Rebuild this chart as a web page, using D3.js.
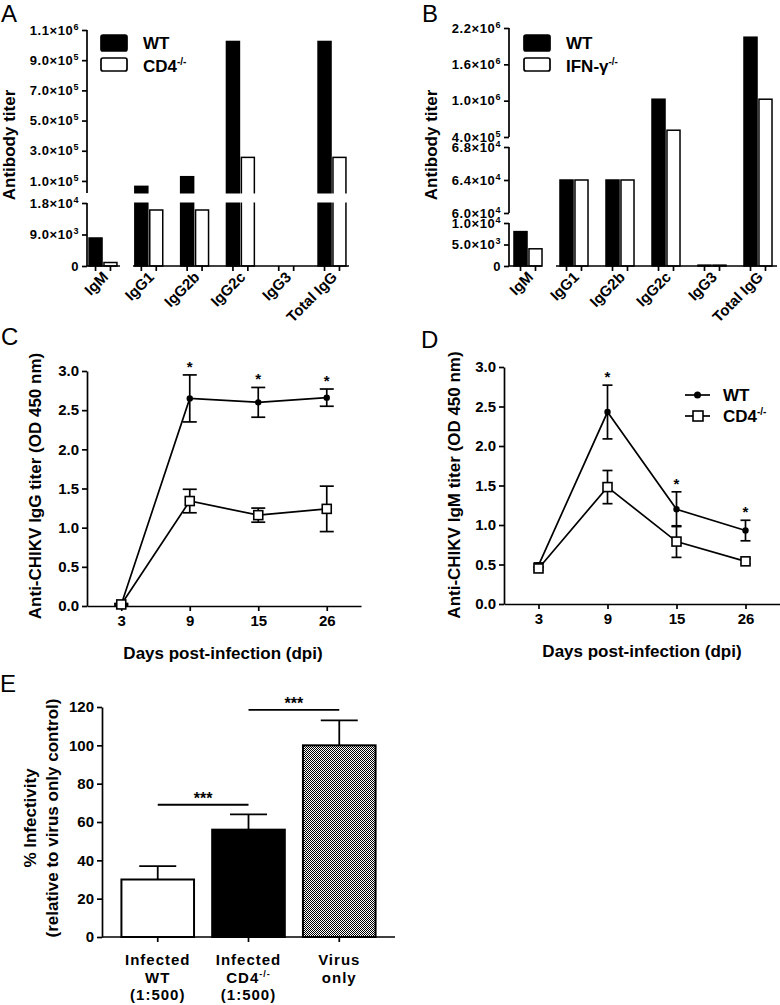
<!DOCTYPE html>
<html>
<head>
<meta charset="utf-8">
<script src="https://cdn.jsdelivr.net/npm/d3@7/dist/d3.min.js"></script>
<style>
body { margin: 0; background: #fff; }
svg text { font-family: "Liberation Sans", Arial, sans-serif; font-weight: bold; fill: #000; }
svg text.letter { font-weight: normal; font-size: 24px; }
</style>
</head>
<body>
<svg id="fig" width="780" height="1005"></svg>
<script>
// ---- data ----
var isotypes = ["IgM", "IgG1", "IgG2b", "IgG2c", "IgG3", "Total IgG"];
var a_series = ["WT", "CD4^-/-"];
var a_wt  = [8000, 64000, 128000, 1024000, 0, 1024000];
var a_cd4 = [1000, 16000, 16000, 256000, 0, 256000];
var a_ticks_top = [1e5, 3e5, 5e5, 7e5, 9e5, 1.1e6];
var a_ticks_bot = [0, 9e3, 1.8e4];

var b_series = ["WT", "IFN-γ^-/-"];
var b_wt  = [8000, 64000, 64000, 1024000, 200, 2048000];
var b_ifn = [4000, 64000, 64000, 512000, 200, 1024000];
var b_ticks_top = [4e5, 1e6, 1.6e6, 2.2e6];
var b_ticks_mid = [6e4, 6.4e4, 6.8e4];
var b_ticks_bot = [0, 5e3, 1e4];

var days = ["3", "9", "15", "26"];
var od_ticks = [0, 0.5, 1, 1.5, 2, 2.5, 3];
var igg_wt      = [0.02, 2.65, 2.60, 2.66];
var igg_wt_err  = [0.01, 0.30, 0.19, 0.11];
var igg_cd4     = [0.02, 1.34, 1.16, 1.24];
var igg_cd4_err = [0.01, 0.15, 0.09, 0.29];
var igg_sig     = ["", "*", "*", "*"];
var igm_wt      = [0.49, 2.43, 1.20, 0.93];
var igm_wt_err  = [0.03, 0.34, 0.22, 0.13];
var igm_cd4     = [0.45, 1.48, 0.79, 0.54];
var igm_cd4_err = [0.02, 0.21, 0.20, 0.03];
var igm_sig     = ["", "*", "*", "*"];
var line_series = ["WT", "CD4^-/-"];

var e_groups = [["Infected", "WT", "(1:500)"], ["Infected", "CD4^-/-", "(1:500)"], ["Virus", "only"]];
var e_values = [30, 56, 100];
var e_err    = [7, 8, 13];
var e_ticks  = [0, 20, 40, 60, 80, 100, 120];
var e_sig = [{from: 0, to: 1, y: 69, label: "***"}, {from: 1, to: 2, y: 118.5, label: "***"}];

var svg = d3.select("#fig");

// text with an optional "^superscript" tail
function rich(t, str, supSize, rise) {
  var parts = String(str).split("^");
  t.text(null);
  t.append("tspan").text(parts[0]);
  if (parts.length > 1)
    t.append("tspan").attr("font-size", supSize).attr("dy", -rise).text(parts[1]);
}

function titerLabel(v) {
  if (v === 0) return "0";
  var e = Math.floor(Math.log10(v) + 1e-9);
  var m = v / Math.pow(10, e);
  return m.toFixed(1) + "×10^" + e;
}

function styleAxis(g) {
  g.selectAll("path, line").attr("stroke", "#000").attr("stroke-width", 1.7);
}

// ---- panels A and B: segmented titer bar charts ----
function drawTiter(o) {
  var g = svg.append("g");
  var x0 = d3.scaleBand().domain(isotypes).range(o.xr);
  var x1 = d3.scaleBand().domain([0, 1]).range([0, x0.bandwidth()])
    .paddingInner(0.13).paddingOuter(0.6);
  var segs = o.segs.map(function(s) {
    return {y: d3.scaleLinear().domain(s.d).range(s.r), ticks: s.ticks};
  });
  var base = segs[0].y.range()[0];
  function yv(v) {
    for (var i = segs.length - 1; i > 0; i--)
      if (v >= segs[i].y.domain()[0]) return segs[i].y(v);
    return segs[0].y(v);
  }

  o.values.forEach(function(vals, k) {
    vals.forEach(function(d, i) {
      if (d <= 0) return;
      g.append("rect")
        .attr("x", x0(isotypes[i]) + x1(k))
        .attr("width", x1.bandwidth())
        .attr("y", yv(d))
        .attr("height", base - yv(d))
        .attr("fill", k === 0 ? "#000" : "#fff")
        .attr("stroke", "#000").attr("stroke-width", 1.5);
    });
  });

  // white gap through the bars where the axis is broken
  if (o.cut) {
    for (var s = 1; s < segs.length; s++) {
      g.append("rect").attr("x", o.yx + 2).attr("width", o.xr[1] - o.yx)
        .attr("y", segs[s].y.range()[0] + 0.5)
        .attr("height", segs[s - 1].y.range()[1] - segs[s].y.range()[0] - 1)
        .attr("fill", "#fff");
    }
  }

  segs.forEach(function(s) {
    var ax = g.append("g").attr("transform", "translate(" + o.yx + ",0)")
      .call(d3.axisLeft(s.y).tickValues(s.ticks).tickSize(5).tickPadding(3).tickSizeOuter(0));
    ax.select(".domain").attr("d", "M0," + s.y.range()[0] + "V" + s.y.range()[1]);
    ax.selectAll("text").attr("font-size", 13).attr("letter-spacing", 0.6)
      .each(function(d) { rich(d3.select(this), titerLabel(d), 9, 5); });
    styleAxis(ax);
  });

  o.xsegs.forEach(function(p) {
    g.append("line").attr("x1", p[0]).attr("x2", p[1]).attr("y1", base).attr("y2", base)
      .attr("stroke", "#000").attr("stroke-width", 1.7);
  });
  isotypes.forEach(function(c) {
    [0, 1].forEach(function(k) {
      var cx = x0(c) + x1(k) + x1.bandwidth() / 2;
      g.append("line").attr("x1", cx).attr("x2", cx).attr("y1", base).attr("y2", base + 5)
        .attr("stroke", "#000").attr("stroke-width", 1.7);
    });
    g.append("text").attr("font-size", 15).attr("text-anchor", "end")
      .attr("transform", "translate(" + (x0(c) + x0.bandwidth() / 2 + 6) + "," + (base + 12) + ") rotate(-45)")
      .text(c);
  });

  g.append("text").attr("font-size", 17).attr("text-anchor", "middle")
    .attr("transform", "translate(" + o.ylab[0] + "," + o.ylab[1] + ") rotate(-90)")
    .text("Antibody titer");

  o.series.forEach(function(name, k) {
    var ly = o.leg[1] + k * 23;
    g.append("rect").attr("x", o.leg[0]).attr("y", ly).attr("width", 26).attr("height", k === 0 ? 16 : 13)
      .attr("rx", 2).attr("fill", k === 0 ? "#000" : "#fff").attr("stroke", "#000").attr("stroke-width", 1.7);
    rich(g.append("text").attr("x", o.leg[0] + 42).attr("y", ly + 14).attr("font-size", 17), name, 10, 7);
  });

  svg.append("text").attr("class", "letter").attr("x", o.letter[0]).attr("y", o.letter[1]).text(o.name);
}

drawTiter({
  name: "A", letter: [1, 22], yx: 87, xr: [80.1, 354.9],
  segs: [{d: [0, 1.8e4], r: [266, 203], ticks: a_ticks_bot},
         {d: [2e4, 1.1e6], r: [193, 30], ticks: a_ticks_top}],
  values: [a_wt, a_cd4], series: a_series, cut: true,
  xsegs: [[87, 120], [133, 349]], ylab: [15, 145], leg: [101, 35]
});

drawTiter({
  name: "B", letter: [422, 22], yx: 509, xr: [505, 781],
  segs: [{d: [0, 1e4], r: [266, 223], ticks: b_ticks_bot},
         {d: [6e4, 6.8e4], r: [213, 147], ticks: b_ticks_mid},
         {d: [4e5, 2.2e6], r: [137, 28], ticks: b_ticks_top}],
  values: [b_wt, b_ifn], series: b_series, cut: false,
  xsegs: [[509, 542], [556, 777]], ylab: [437, 145], leg: [524, 35]
});

// ---- panels C and D: OD time courses ----
function drawOD(o) {
  var g = svg.append("g");
  var x = d3.scalePoint().domain(days).range(o.xr).padding(0.5);
  var y = d3.scaleLinear().domain([0, 3]).range(o.yr);

  var ax = g.append("g").attr("transform", "translate(" + o.xr[0] + ",0)")
    .call(d3.axisLeft(y).tickValues(od_ticks).tickFormat(d3.format(".1f")).tickSize(5).tickPadding(3).tickSizeOuter(0));
  ax.selectAll("text").attr("font-size", 15);
  styleAxis(ax);
  var bx = g.append("g").attr("transform", "translate(0," + o.yr[0] + ")")
    .call(d3.axisBottom(x).tickSize(5).tickPadding(4).tickSizeOuter(0));
  bx.selectAll("text").attr("font-size", 15);
  styleAxis(bx);

  var series = [{v: o.wt, e: o.wtErr}, {v: o.ko, e: o.koErr}];
  series.forEach(function(s) {
    days.forEach(function(d, i) {
      var cx = x(d), lo = y(s.v[i] - s.e[i]), hi = y(s.v[i] + s.e[i]);
      g.append("line").attr("x1", cx).attr("x2", cx).attr("y1", lo).attr("y2", hi);
      g.append("line").attr("x1", cx - o.cap).attr("x2", cx + o.cap).attr("y1", lo).attr("y2", lo);
      g.append("line").attr("x1", cx - o.cap).attr("x2", cx + o.cap).attr("y1", hi).attr("y2", hi);
    });
    g.append("path").datum(s.v)
      .attr("fill", "none")
      .attr("d", d3.line().x(function(d, i) { return x(days[i]); }).y(function(d) { return y(d); }));
  });
  g.selectAll("line, path").attr("stroke", "#000").attr("stroke-width", 1.7);

  series.forEach(function(s, k) {
    s.v.forEach(function(d, i) {
      if (k === 0)
        g.append("circle").attr("cx", x(days[i])).attr("cy", y(d)).attr("r", 3.2).attr("fill", "#000");
      else
        g.append("rect").attr("x", x(days[i]) - 4.5).attr("y", y(d) - 4.5).attr("width", 9).attr("height", 9)
          .attr("fill", "#fff").attr("stroke", "#000").attr("stroke-width", 1.6);
    });
  });

  o.sig.forEach(function(t, i) {
    if (!t) return;
    g.append("text").attr("x", x(days[i])).attr("y", y(o.wt[i] + o.wtErr[i]) - 3)
      .attr("text-anchor", "middle").attr("font-size", 15).text(t);
  });

  g.append("text").attr("font-size", 17).attr("text-anchor", "middle")
    .attr("transform", "translate(" + o.ylab[0] + "," + o.ylab[1] + ") rotate(-90)")
    .text(o.ytitle);
  g.append("text").attr("font-size", 17).attr("text-anchor", "middle")
    .attr("x", o.xlab[0]).attr("y", o.xlab[1]).text("Days post-infection (dpi)");

  if (o.leg) {
    line_series.forEach(function(name, k) {
      var ly = o.leg[1] + k * 21, lx = o.leg[0];
      g.append("line").attr("x1", lx).attr("x2", lx + 25).attr("y1", ly).attr("y2", ly)
        .attr("stroke", "#000").attr("stroke-width", 1.7);
      if (k === 0)
        g.append("circle").attr("cx", lx + 12.5).attr("cy", ly).attr("r", 3.5).attr("fill", "#000");
      else
        g.append("rect").attr("x", lx + 8).attr("y", ly - 5).attr("width", 10).attr("height", 10)
          .attr("fill", "#fff").attr("stroke", "#000").attr("stroke-width", 1.6);
      rich(g.append("text").attr("x", lx + 38).attr("y", ly + 6).attr("font-size", 17), name, 10, 7);
    });
  }
  svg.append("text").attr("class", "letter").attr("x", o.letter[0]).attr("y", o.letter[1]).text(o.name);
}

drawOD({
  name: "C", letter: [1, 345], xr: [87, 361], yr: [606, 371], cap: 7,
  wt: igg_wt, wtErr: igg_wt_err, ko: igg_cd4, koErr: igg_cd4_err, sig: igg_sig,
  ytitle: "Anti-CHIKV IgG titer (OD 450 nm)", ylab: [41, 486], xlab: [223, 659]
});
drawOD({
  name: "D", letter: [421, 348], xr: [504, 780], yr: [604, 367], cap: 5,
  wt: igm_wt, wtErr: igm_wt_err, ko: igm_cd4, koErr: igm_cd4_err, sig: igm_sig,
  ytitle: "Anti-CHIKV IgM titer (OD 450 nm)", ylab: [460, 485], xlab: [642, 657],
  leg: [685, 395]
});

// ---- panel E: neutralisation bars ----
(function() {
  var g = svg.append("g");
  var defs = svg.append("defs");
  var pat = defs.append("pattern").attr("id", "chk").attr("patternUnits", "userSpaceOnUse")
    .attr("width", 2).attr("height", 2);
  pat.append("rect").attr("width", 2).attr("height", 2).attr("fill", "#fff");
  pat.append("rect").attr("width", 1).attr("height", 1).attr("fill", "#000");
  pat.append("rect").attr("x", 1).attr("y", 1).attr("width", 1).attr("height", 1).attr("fill", "#000");

  var x = d3.scaleBand().domain(d3.range(e_values.length)).range([102, 395])
    .paddingInner(0.2).paddingOuter(0.214);
  var y = d3.scaleLinear().domain([0, 120]).range([937, 707]);
  var fills = ["#fff", "#000", "url(#chk)"];

  g.selectAll(".bar").data(e_values).enter().append("rect")
    .attr("x", function(d, i) { return x(i); })
    .attr("width", x.bandwidth())
    .attr("y", function(d) { return y(d); })
    .attr("height", function(d) { return y(0) - y(d); })
    .attr("fill", function(d, i) { return fills[i]; })
    .attr("stroke", "#000").attr("stroke-width", 2);

  e_values.forEach(function(d, i) {
    var cx = x(i) + x.bandwidth() / 2;
    g.append("line").attr("x1", cx).attr("x2", cx).attr("y1", y(d)).attr("y2", y(d + e_err[i]));
    g.append("line").attr("x1", cx - 18.5).attr("x2", cx + 18.5).attr("y1", y(d + e_err[i])).attr("y2", y(d + e_err[i]));
  });
  e_sig.forEach(function(s) {
    var a = x(s.from) + x.bandwidth() / 2, b = x(s.to) + x.bandwidth() / 2;
    g.append("line").attr("x1", a).attr("x2", b).attr("y1", y(s.y)).attr("y2", y(s.y));
    g.append("text").attr("x", (a + b) / 2).attr("y", y(s.y) - 1).attr("text-anchor", "middle")
      .attr("font-size", 16).text(s.label);
  });
  g.selectAll("line").attr("stroke", "#000").attr("stroke-width", 1.8);

  var ax = g.append("g").attr("transform", "translate(102,0)")
    .call(d3.axisLeft(y).tickValues(e_ticks).tickSize(5).tickPadding(3).tickSizeOuter(0));
  ax.selectAll("text").attr("font-size", 15);
  styleAxis(ax);
  var bx = g.append("g").attr("transform", "translate(0,937)")
    .call(d3.axisBottom(x).tickSize(5).tickSizeOuter(0).tickFormat(""));
  bx.select(".domain").attr("d", "M102,0H395");
  styleAxis(bx);

  e_groups.forEach(function(lines, i) {
    var cx = x(i) + x.bandwidth() / 2;
    lines.forEach(function(l, j) {
      rich(g.append("text").attr("x", cx).attr("y", 965 + j * 17.5).attr("text-anchor", "middle")
        .attr("font-size", 15).attr("letter-spacing", 1), l, 9, 6);
    });
  });

  g.append("text").attr("font-size", 17).attr("text-anchor", "middle")
    .attr("transform", "translate(36,818) rotate(-90)").text("% Infectivity");
  g.append("text").attr("font-size", 17).attr("text-anchor", "middle")
    .attr("transform", "translate(58,818) rotate(-90)").text("(relative to virus only control)");

  svg.append("text").attr("class", "letter").attr("x", 0).attr("y", 692).text("E");
})();
</script>
</body>
</html>
